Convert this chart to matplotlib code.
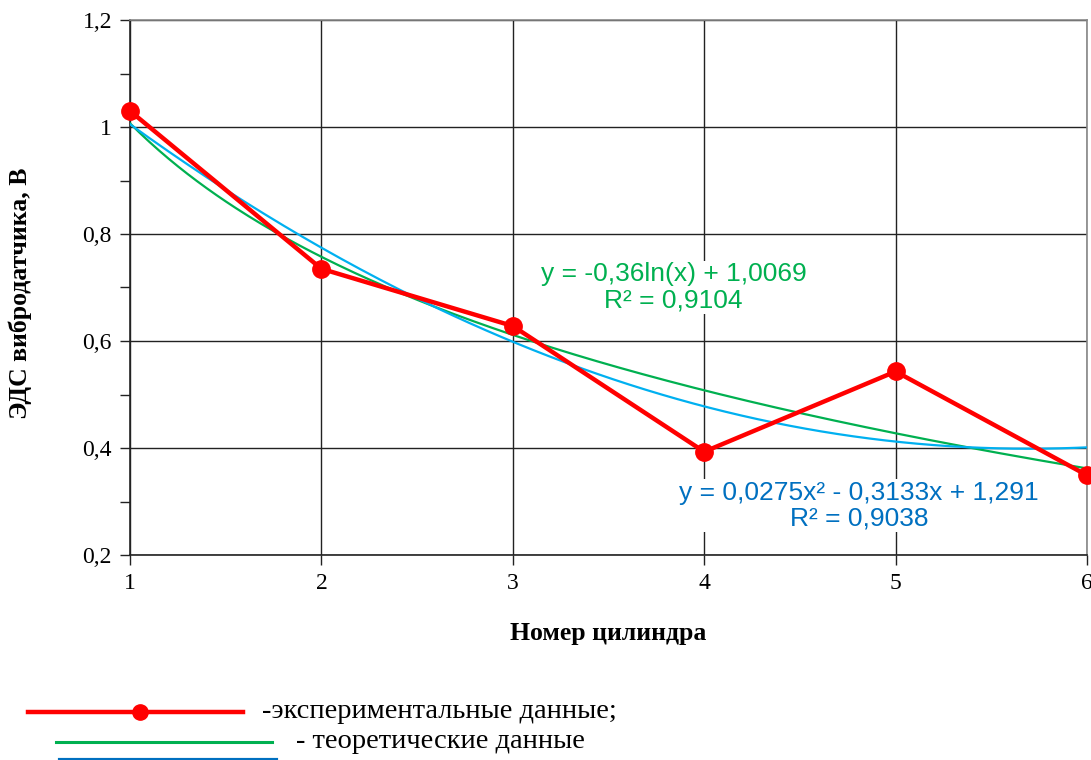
import numpy as np
import matplotlib
matplotlib.use("Agg")
import matplotlib.pyplot as plt
from matplotlib.lines import Line2D
from matplotlib.ticker import MultipleLocator, FuncFormatter

# Measured EMF of the vibration sensor per cylinder
cylinders = [1, 2, 3, 4, 5, 6]
emf = [1.030, 0.735, 0.628, 0.393, 0.543, 0.349]

# Trendline coefficients
log_a, log_b = -0.36, 1.0069              # y = a*ln(x) + b
poly_c = [0.0275, -0.3133, 1.291]         # y = c2*x^2 + c1*x + c0
log_r2 = "0,9104"
poly_r2 = "0,9038"

x_label = "Номер цилиндра"
y_label = "ЭДС вибродатчика, В"
legend_texts = ["-экспериментальные данные;", "- теоретические данные"]

RED = "#FF0000"
GREEN = "#00B050"
CYAN = "#00B0F0"
BLUE_TXT = "#0070C0"

W, H = 1091, 760
fig = plt.figure(figsize=(W / 100, H / 100), dpi=100)
ax = fig.add_axes([130 / W, 1 - 555 / H, (1087 - 130) / W, (555 - 20) / H])

serif = "Liberation Serif"
sans = "Liberation Sans"

xs = np.linspace(1, 6, 300)
ax.plot(xs, log_a * np.log(xs) + log_b, color=GREEN, lw=1.6, zorder=3)
ax.plot(xs, np.polyval(poly_c, xs), color=CYAN, lw=1.6, zorder=3)
ax.plot(cylinders, emf, color=RED, lw=3.2, marker="o", ms=12.5,
        zorder=4, clip_on=False)

ax.set_xlim(1, 6)
ax.set_ylim(0.2, 1.2)
ax.xaxis.set_major_locator(MultipleLocator(1))
ax.yaxis.set_major_locator(MultipleLocator(0.2))
ax.yaxis.set_minor_locator(MultipleLocator(0.1))

def comma(v, pos):
    s = f"{v:.1f}".rstrip("0").rstrip(".")
    return s.replace(".", ",")

ax.yaxis.set_major_formatter(FuncFormatter(comma))
ax.xaxis.set_major_formatter(FuncFormatter(lambda v, p: f"{int(round(v))}"))

ax.grid(True, which="major", color="#222222", lw=1.0, zorder=1)
for side in ("top", "right"):
    ax.spines[side].set_color("#888888")
    ax.spines[side].set_linewidth(1.2)
for side in ("left", "bottom"):
    ax.spines[side].set_color("#222222")
    ax.spines[side].set_linewidth(1.2)

ax.tick_params(axis="both", which="major", direction="out", length=7,
               width=1.0, color="#222222", pad=6)
ax.tick_params(axis="y", which="minor", direction="out", length=7,
               width=1.0, color="#222222")
for lab in ax.get_xticklabels() + ax.get_yticklabels():
    lab.set_fontfamily(serif)
    lab.set_fontsize(17)

ax.set_xlabel(x_label, fontfamily=serif, fontweight="bold", fontsize=18.5)
ax.set_ylabel(y_label, fontfamily=serif, fontweight="bold", fontsize=18.5)
ax.xaxis.set_label_coords(0.5, -0.125)
ax.yaxis.set_label_coords(-0.1024, 0.49)

ax.text(3.84, 0.700, f"y = {str(log_a).replace('.', ',')}ln(x) + "
        f"{str(log_b).replace('.', ',')}\nR² = {log_r2}",
        color=GREEN, fontfamily=sans, fontsize=19, ha="center", va="center",
        linespacing=1.12, zorder=5,
        bbox=dict(facecolor="white", edgecolor="none", pad=1))
c2, c1, c0 = [str(v).replace(".", ",") for v in poly_c]
ax.text(4.81, 0.292, f"y = {c2}x² - {c1.lstrip('-')}x + {c0}\nR² = {poly_r2}",
        color=BLUE_TXT, fontfamily=sans, fontsize=19, ha="center",
        va="center", linespacing=1.12, zorder=5,
        bbox=dict(facecolor="white", edgecolor="none", pad=1))

# Hand-made legend under the chart (figure pixel coordinates)
def fx(px):
    return px / W

def fy(py):
    return 1 - py / H

fig.add_artist(Line2D([fx(28), fx(243)], [fy(712), fy(712)], color=RED,
                      lw=3.2))
fig.add_artist(Line2D([fx(140)], [fy(712)], color=RED, marker="o", ms=11))
fig.add_artist(Line2D([fx(56), fx(272)], [fy(742), fy(742)], color=GREEN,
                      lw=2.2))
fig.add_artist(Line2D([fx(60), fx(276)], [fy(760), fy(760)], color="#0070C0",
                      lw=3.0))
fig.text(fx(262), fy(711), legend_texts[0], fontfamily=serif, fontsize=20.5,
         va="center", ha="left")
fig.text(fx(296), fy(742), legend_texts[1], fontfamily=serif, fontsize=20.5,
         va="center", ha="left")

fig.savefig("out.png", dpi=100)
